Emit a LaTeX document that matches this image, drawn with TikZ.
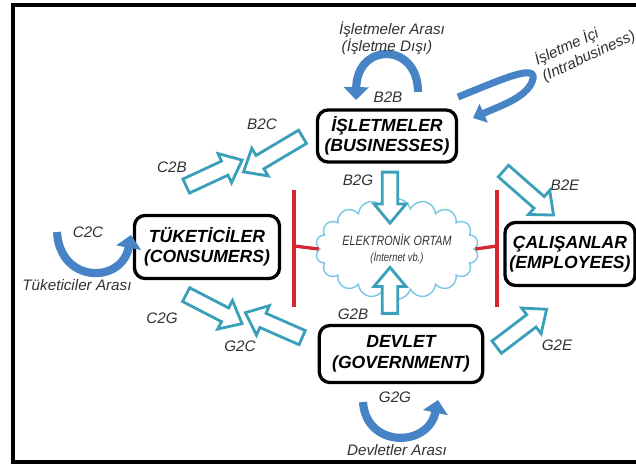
\documentclass[tikz,border=0pt]{standalone}
\usepackage{fontspec}
\setmainfont{Liberation Sans}
\newfontfamily\cloudfont[FakeStretch=0.8]{Liberation Sans}
\usetikzlibrary{shapes.symbols,shapes.arrows,arrows.meta}

\definecolor{flowcyan}{RGB}{58,160,186}
\definecolor{loopblue}{RGB}{70,132,198}
\definecolor{barred}{RGB}{214,38,48}
\definecolor{cloudcyan}{RGB}{120,200,228}
\definecolor{labelgray}{RGB}{50,50,50}

\tikzset{
    party/.style={draw, line width=2.8pt, rounded corners=9pt, align=center,
        font=\fontsize{15}{17.5}\selectfont\bfseries\itshape, inner sep=0pt},
    flow/.style={single arrow, draw=flowcyan, line width=2.4pt, fill=white,
        inner sep=0pt, inner ysep=0.19cm, minimum width=0.88cm,
        single arrow head extend=0.25cm, single arrow tip angle=80},
    flowlabel/.style={font=\fontsize{13}{15}\selectfont\itshape, text=labelgray, inner sep=1pt},
    redbar/.style={draw=barred, line width=2.8pt},
    turnarrow/.style={draw=loopblue, line width=7pt,
        -{Triangle[width=21pt, length=11pt]}}
}

\begin{document}
\begin{tikzpicture}[x=0.03cm, y=-0.03cm]
                    \useasboundingbox (0, 0) rectangle (636, 467);
                    \clip (0, 0) rectangle (636, 467);
                    \draw[line width=2.8pt] (13, 5) rectangle (660, 462);

                    % parties
                    \node[party, minimum width=4.17cm, minimum height=1.56cm] (biz) at (387, 136) {İŞLETMELER\\(BUSINESSES)};
                    \node[party, minimum width=4.35cm, minimum height=1.89cm] (cons) at (207, 247) {TÜKETİCİLER\\(CONSUMERS)};
                    \node[party, minimum width=3.9cm, minimum height=1.89cm] (emp) at (570, 254) {ÇALIŞANLAR\\(EMPLOYEES)};
                    \node[party, minimum width=4.9cm, minimum height=1.71cm] (gov) at (401, 354) {DEVLET\\(GOVERNMENT)};

                    \node[cloud, draw=cloudcyan, line width=1.2pt, cloud puffs=18, aspect=1.9,
                          minimum width=4.35cm, minimum height=2.34cm, inner sep=0pt,
                          align=center, text=labelgray] (net) at (397, 249)
                          {{\cloudfont\itshape\fontsize{11.5}{13}\selectfont ELEKTRONİK ORTAM}\\[2pt]
                           {\cloudfont\itshape\fontsize{10}{12}\selectfont (İnternet vb.)}};

                    % red bars
                    \coordinate (lbar) at (294, 246);
                    \coordinate (rbar) at (497, 246);
                    \draw[redbar] (294, 190) -- (294, 307);
                    \draw[redbar] (497, 190) -- (497, 307);
                    \draw[redbar] (lbar) -- (net.west);
                    \draw[redbar] (net.east) -- (rbar);

                    % block arrows
                    \node[flow, minimum height=2.06cm, rotate=210.7] (b2c arrow) at (277, 152) {};
                    \node[flow, minimum height=1.85cm, rotate=24.9] (c2b arrow) at (210, 175) {};
                    \node[flow, minimum height=1.89cm, rotate=-27.4] (c2g arrow) at (210, 307) {};
                    \node[flow, minimum height=1.86cm, rotate=156.3] (g2c arrow) at (278, 327) {};
                    \node[flow, minimum height=1.53cm, rotate=-90] (b2g arrow) at (390, 193) {};
                    \node[flow, minimum height=1.38cm, rotate=90] (g2b arrow) at (390, 295) {};
                    \node[flow, minimum height=2.0cm, rotate=-41.3] (b2e arrow) at (525, 190) {};
                    \node[flow, minimum height=1.88cm, rotate=37.2] (g2e arrow) at (518, 331) {};

                    \node[flowlabel] (b2c) at (262, 124) {B2C};
                    \node[flowlabel] (c2b) at (172, 167) {C2B};
                    \node[flowlabel] (c2g) at (162, 318) {C2G};
                    \node[flowlabel] (g2c) at (240, 346) {G2C};
                    \node[flowlabel] (b2g) at (358, 180) {B2G};
                    \node[flowlabel] (g2b) at (353, 314) {G2B};
                    \node[flowlabel] (b2e) at (565, 185) {B2E};
                    \node[flowlabel] (g2e) at (557, 345) {G2E};

                    % self loops
                    \draw[turnarrow] (418, 92) .. controls (418, 42) and (357, 42) .. (356, 100);
                    \draw[turnarrow] (57, 232) .. controls (60, 284) and (122, 284) .. (131, 235);
                    \draw[turnarrow] (363, 402) .. controls (366, 448) and (428, 448) .. (438, 400);
                    \draw[turnarrow, line width=6pt, -{Triangle[width=17pt, length=10pt]}]
                        (458, 97) .. controls (505, 78) and (540, 62) .. (532, 82)
                        .. controls (525, 98) and (500, 106) .. (473, 118);

                    \node[flowlabel] (b2b) at (388, 97) {B2B};
                    \node[flowlabel] (c2c) at (88, 232) {C2C};
                    \node[flowlabel] (g2g) at (395, 397) {G2G};
                    \node[flowlabel] (b2b text) at (392, 30) {İşletmeler Arası};
                    \node[flowlabel] (b2b sub) at (387, 47) {(İşletme Dışı)};
                    \node[flowlabel] (c2c text) at (77, 285) {Tüketiciler Arası};
                    \node[flowlabel] (g2g text) at (397, 450) {Devletler Arası};
                    \node[flowlabel, rotate=25, align=left] (intra) at (585, 48) {İşletme İçi\\(Intrabusiness)};
                \end{tikzpicture}
\end{document}
